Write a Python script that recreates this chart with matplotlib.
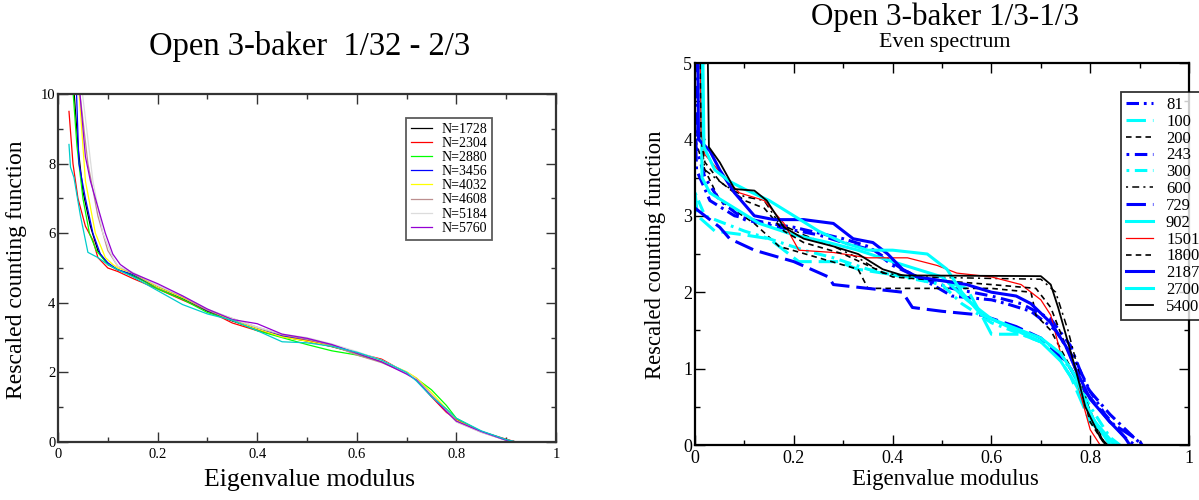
import matplotlib
matplotlib.use("Agg")
import matplotlib.pyplot as plt
from matplotlib.ticker import MultipleLocator

plt.rcParams['font.family'] = ['Liberation Serif', 'DejaVu Serif']
plt.rcParams['lines.scale_dashes'] = False

# ---------------- left panel data ----------------
left_title = "Open 3-baker  1/32 - 2/3"
left_labels = ["N=1728", "N=2304", "N=2880", "N=3456", "N=4032", "N=4608", "N=5184", "N=5760"]
left_colors = ["#000000", "#ff0000", "#00ff00", "#0000ff", "#ffff00", "#bc8f8f", "#dcdcdc", "#9400d3"]

body_x = [0.12, 0.15, 0.2, 0.25, 0.3, 0.35, 0.4, 0.45, 0.5, 0.55, 0.6, 0.65, 0.7, 0.72, 0.75, 0.78, 0.8, 0.85, 0.9, 0.92, 0.95]

n1728_x = [0.03, 0.04, 0.05, 0.065, 0.08, 0.1] + body_x
n1728_y = [10.5, 8.5, 7.2, 6.2, 5.5, 5.1, 4.95, 4.78, 4.45, 4.12, 3.76, 3.48, 3.24, 3.03, 2.9, 2.74, 2.55, 2.32, 1.98, 1.8, 1.35, 0.9, 0.6, 0.3, 0.06, 0.0, 0.0]
n2304_x = [0.022, 0.03, 0.04, 0.055, 0.07, 0.08, 0.1] + body_x
n2304_y = [9.5, 8.0, 7.0, 6.2, 5.8, 5.3, 5.0, 4.9, 4.7, 4.4, 4.08, 3.78, 3.42, 3.2, 3.05, 2.92, 2.76, 2.56, 2.38, 1.98, 1.78, 1.3, 0.85, 0.65, 0.3, 0.08, 0.0, 0.0]
n2880_x = [0.028, 0.038, 0.05, 0.063, 0.077, 0.1] + body_x
n2880_y = [10.5, 8.5, 7.0, 6.0, 5.5, 5.1, 4.95, 4.8, 4.4, 4.1, 3.72, 3.5, 3.2, 3.0, 2.8, 2.62, 2.5, 2.32, 2.0, 1.82, 1.5, 1.05, 0.68, 0.3, 0.06, 0.0, 0.0]
n3456_x = [0.036, 0.042, 0.055, 0.07, 0.085, 0.1] + body_x
n3456_y = [10.5, 8.0, 7.0, 6.0, 5.4, 5.15, 4.95, 4.82, 4.45, 4.15, 3.78, 3.5, 3.25, 3.05, 2.95, 2.8, 2.55, 2.33, 2.0, 1.82, 1.35, 0.92, 0.6, 0.3, 0.06, 0.0, 0.0]
n4032_x = [0.04, 0.055, 0.075, 0.095, 0.11] + body_x
n4032_y = [10.5, 7.5, 6.0, 5.3, 5.1, 5.0, 4.85, 4.45, 4.15, 3.8, 3.5, 3.25, 3.02, 2.9, 2.75, 2.55, 2.33, 2.02, 1.84, 1.42, 0.95, 0.62, 0.3, 0.06, 0.0, 0.0]
n4608_x = [0.04, 0.06, 0.08, 0.1] + body_x
n4608_y = [10.5, 8.0, 6.5, 5.5, 5.05, 4.85, 4.5, 4.18, 3.8, 3.55, 3.3, 3.08, 2.95, 2.78, 2.5, 2.28, 1.98, 1.8, 1.35, 0.88, 0.58, 0.28, 0.05, 0.0, 0.0]
n5184_x = [0.045, 0.07, 0.09, 0.11] + body_x
n5184_y = [10.5, 7.5, 6.0, 5.3, 5.05, 4.88, 4.5, 4.2, 3.82, 3.55, 3.3, 3.1, 3.0, 2.82, 2.6, 2.35, 2.0, 1.8, 1.35, 0.9, 0.58, 0.28, 0.05, 0.0, 0.0]
n5760_x = [0.041, 0.055, 0.065, 0.085, 0.095, 0.11, 0.125] + body_x[1:]
n5760_y = [10.5, 8.2, 7.5, 6.5, 6.0, 5.4, 5.1, 4.85, 4.55, 4.2, 3.82, 3.52, 3.4, 3.1, 2.98, 2.8, 2.55, 2.3, 1.95, 1.78, 1.32, 0.88, 0.6, 0.3, 0.05, 0.0, 0.0]
extra_x = [0.022, 0.025, 0.032, 0.045, 0.06, 0.08, 0.1] + body_x
extra_y = [8.55, 7.9, 7.6, 6.5, 5.45, 5.3, 5.1, 4.95, 4.75, 4.35, 3.95, 3.68, 3.5, 3.2, 2.88, 2.85, 2.75, 2.58, 2.35, 2.0, 1.75, 1.3, 0.95, 0.68, 0.32, 0.07, 0.0, 0.0]

left_x = [n1728_x, n2304_x, n2880_x, n3456_x, n4032_x, n4608_x, n5184_x, n5760_x]
left_y = [n1728_y, n2304_y, n2880_y, n3456_y, n4032_y, n4608_y, n5184_y, n5760_y]

# ---------------- right panel data ----------------
right_title = "Open 3-baker 1/3-1/3"
right_subtitle = "Even spectrum"
right_labels = ["81", "100", "200", "243", "300", "600", "729", "902", "1501", "1800", "2187", "2700", "5400"]

r81_x = [0.0, 0.003, 0.03, 0.08, 0.15, 0.2, 0.3, 0.35, 0.42, 0.48, 0.52, 0.6, 0.63, 0.68, 0.73, 0.77, 0.8, 0.84, 0.88, 0.905]
r81_y = [4.2, 3.6, 3.2, 3.0, 2.9, 2.85, 2.7, 2.6, 2.3, 2.1, 1.95, 1.9, 1.85, 1.75, 1.5, 1.1, 0.7, 0.4, 0.15, 0.0]
r100_x = [0.0, 0.005, 0.04, 0.1, 0.15, 0.21, 0.29, 0.33, 0.43, 0.5, 0.55, 0.58, 0.6, 0.66, 0.72, 0.76, 0.8, 0.85]
r100_y = [3.3, 3.0, 2.8, 2.75, 2.7, 2.4, 2.4, 2.3, 2.2, 2.15, 2.05, 1.7, 1.45, 1.45, 1.3, 0.9, 0.3, 0.0]
r200_x = [0.0, 0.02, 0.05, 0.12, 0.17, 0.25, 0.33, 0.35, 0.6, 0.68, 0.69, 0.72, 0.77, 0.83]
r200_y = [4.0, 3.6, 3.2, 2.9, 2.6, 2.45, 2.3, 2.05, 2.05, 2.0, 1.7, 1.5, 0.9, 0.0]
r243_x = [0.0, 0.002, 0.02, 0.05, 0.1, 0.17, 0.25, 0.3, 0.36, 0.4, 0.45, 0.52, 0.6, 0.66, 0.72, 0.76, 0.79, 0.83, 0.87, 0.89]
r243_y = [5.5, 3.9, 3.5, 3.2, 2.95, 2.85, 2.75, 2.65, 2.55, 2.35, 2.2, 2.05, 1.95, 1.85, 1.65, 1.3, 0.8, 0.4, 0.1, 0.0]
r300_x = [0.0, 0.02, 0.1, 0.15, 0.22, 0.28, 0.35, 0.42, 0.5, 0.54, 0.6, 0.66, 0.72, 0.76, 0.8, 0.84, 0.86]
r300_y = [3.3, 3.0, 2.8, 2.7, 2.55, 2.45, 2.3, 2.2, 2.1, 1.85, 1.6, 1.45, 1.3, 1.0, 0.5, 0.1, 0.0]
r600_x = [0.01, 0.012, 0.02, 0.06, 0.1, 0.14, 0.17, 0.22, 0.28, 0.33, 0.38, 0.45, 0.6, 0.7, 0.73, 0.755, 0.775, 0.8, 0.83]
r600_y = [5.5, 4.0, 3.6, 3.4, 3.25, 3.2, 2.9, 2.75, 2.6, 2.45, 2.25, 2.2, 2.18, 2.17, 2.0, 1.5, 1.0, 0.4, 0.0]
r729_x = [0.0, 0.05, 0.07, 0.12, 0.2, 0.27, 0.28, 0.35, 0.42, 0.44, 0.5, 0.58, 0.65, 0.7, 0.75, 0.79, 0.84, 0.9, 0.905]
r729_y = [3.1, 2.85, 2.7, 2.55, 2.4, 2.2, 2.1, 2.05, 2.0, 1.8, 1.75, 1.7, 1.55, 1.4, 1.1, 0.7, 0.3, 0.05, 0.0]
r902_x = [0.012, 0.014, 0.03, 0.08, 0.13, 0.2, 0.27, 0.33, 0.4, 0.45, 0.5, 0.55, 0.6, 0.65, 0.7, 0.74, 0.77, 0.81, 0.85]
r902_y = [5.5, 3.5, 3.3, 3.1, 2.9, 2.75, 2.65, 2.55, 2.4, 2.3, 2.2, 1.9, 1.65, 1.5, 1.35, 1.1, 0.8, 0.3, 0.0]
r1501_x = [0.01, 0.012, 0.02, 0.06, 0.09, 0.14, 0.18, 0.21, 0.28, 0.35, 0.43, 0.49, 0.53, 0.6, 0.66, 0.7, 0.72, 0.74, 0.77, 0.8, 0.82]
r1501_y = [5.5, 4.1, 3.8, 3.5, 3.3, 3.2, 2.9, 2.55, 2.52, 2.45, 2.45, 2.35, 2.25, 2.2, 2.1, 1.9, 1.7, 1.2, 0.9, 0.2, 0.0]
r1800_x = [0.01, 0.012, 0.02, 0.05, 0.1, 0.14, 0.18, 0.22, 0.3, 0.35, 0.4, 0.5, 0.6, 0.69, 0.72, 0.75, 0.775, 0.8, 0.83]
r1800_y = [5.5, 4.0, 3.7, 3.45, 3.2, 3.1, 2.8, 2.65, 2.5, 2.35, 2.2, 2.15, 2.1, 2.05, 1.8, 1.3, 0.9, 0.3, 0.0]
r2187_x = [0.005, 0.007, 0.03, 0.05, 0.08, 0.12, 0.16, 0.22, 0.28, 0.3, 0.32, 0.36, 0.39, 0.42, 0.45, 0.5, 0.55, 0.6, 0.65, 0.68, 0.72, 0.75, 0.77, 0.8, 0.84, 0.87, 0.88]
r2187_y = [5.5, 4.0, 3.85, 3.6, 3.3, 3.0, 2.95, 2.95, 2.9, 2.8, 2.7, 2.65, 2.5, 2.3, 2.2, 2.15, 2.1, 2.0, 1.95, 1.85, 1.6, 1.3, 1.0, 0.6, 0.3, 0.1, 0.0]
r2700_x = [0.015, 0.018, 0.04, 0.07, 0.1, 0.15, 0.2, 0.25, 0.3, 0.35, 0.4, 0.47, 0.51, 0.54, 0.58, 0.62, 0.66, 0.7, 0.74, 0.77, 0.8, 0.84]
r2700_y = [5.5, 3.9, 3.6, 3.45, 3.35, 3.2, 3.0, 2.8, 2.65, 2.55, 2.55, 2.5, 2.3, 2.0, 1.7, 1.6, 1.5, 1.4, 1.2, 0.9, 0.4, 0.0]
r5400_x = [0.025, 0.028, 0.05, 0.08, 0.12, 0.145, 0.18, 0.22, 0.28, 0.33, 0.38, 0.42, 0.7, 0.72, 0.735, 0.77, 0.79, 0.82, 0.835]
r5400_y = [5.5, 3.9, 3.7, 3.35, 3.33, 3.2, 2.85, 2.7, 2.6, 2.5, 2.3, 2.22, 2.21, 2.1, 1.8, 1.0, 0.5, 0.1, 0.0]

right_x = [r81_x, r100_x, r200_x, r243_x, r300_x, r600_x, r729_x, r902_x, r1501_x, r1800_x, r2187_x, r2700_x, r5400_x]
right_y = [r81_y, r100_y, r200_y, r243_y, r300_y, r600_y, r729_y, r902_y, r1501_y, r1800_y, r2187_y, r2700_y, r5400_y]

BLUE, CYAN, BLACK, RED = "#0000ff", "#00ffff", "#000000", "#ff0000"
right_styles = [
    dict(color=BLUE, lw=2.2, dashes=(9, 3.5, 2, 3.5)),
    dict(color=CYAN, lw=2.2, dashes=(14, 5)),
    dict(color=BLACK, lw=1.2, dashes=(4, 3)),
    dict(color=BLUE, lw=2.2, dashes=(2, 4, 9, 4)),
    dict(color=CYAN, lw=2.2, dashes=(2, 4, 9, 4)),
    dict(color=BLACK, lw=1.1, dashes=(1.5, 3, 5, 3)),
    dict(color=BLUE, lw=2.2, dashes=(14, 5)),
    dict(color=CYAN, lw=2.2, ls='-'),
    dict(color=RED, lw=0.9, ls='-'),
    dict(color=BLACK, lw=1.2, dashes=(4, 3)),
    dict(color=BLUE, lw=2.2, ls='-'),
    dict(color=CYAN, lw=2.2, ls='-'),
    dict(color=BLACK, lw=1.3, ls='-'),
]

fig = plt.figure(figsize=(11.99, 5.0), dpi=100)


def style_axes(ax, xmaj, xmin, ymaj, ymin, spine_color, tick_size):
    ax.xaxis.set_major_locator(MultipleLocator(xmaj))
    ax.xaxis.set_minor_locator(MultipleLocator(xmin))
    ax.yaxis.set_major_locator(MultipleLocator(ymaj))
    ax.yaxis.set_minor_locator(MultipleLocator(ymin))
    ax.tick_params(which='both', direction='in', top=True, right=True,
                   labelsize=tick_size, color=spine_color)
    ax.tick_params(which='major', length=7, width=1.0)
    ax.tick_params(which='minor', length=3.5, width=1.0)
    for s in ax.spines.values():
        s.set_linewidth(1.6)
        s.set_color(spine_color)


# ---- left ----
axL = fig.add_axes([0.0484, 0.116, 0.4153, 0.696])
for xs, ys, c, lab in zip(left_x, left_y, left_colors, left_labels):
    axL.plot(xs, ys, color=c, lw=0.9, label=lab)
axL.plot(extra_x, extra_y, color="#00cccc", lw=0.9, label='_nolegend_')
axL.set_xlim(0, 1)
axL.set_ylim(0, 10)
style_axes(axL, 0.2, 0.1, 2, 1, "#333333", 10.5)
axL.set_xticks([0, 0.2, 0.4, 0.6, 0.8, 1.0])
axL.set_xticklabels(["0", "0.2", "0.4", "0.6", "0.8", "1"])
axL.set_yticks([0, 2, 4, 6, 8, 10])
axL.set_yticklabels(["0", "2", "4", "6", "8", "10"])
axL.tick_params(axis='x', pad=4)
axL.tick_params(axis='y', pad=2)
legL = axL.legend(loc='upper left', bbox_to_anchor=(406 / 1199, 1 - 118 / 500),
                  bbox_transform=fig.transFigure, fontsize=10, frameon=True,
                  fancybox=False, handlelength=1.5, handletextpad=0.7,
                  labelspacing=0.08, borderpad=0.35, borderaxespad=0)
legL.get_frame().set_edgecolor("#333333")
legL.get_frame().set_linewidth(1.3)
fig.text(0.258, 1 - 47 / 500, left_title, ha='center', va='center', fontsize=23.5)
fig.text(0.258, 1 - 480 / 500, "Eigenvalue modulus", ha='center', va='center', fontsize=18.5)
fig.text(17 / 1199, 0.46, "Rescaled counting function", ha='center', va='center',
         rotation=90, fontsize=17)

# ---- right ----
axR = fig.add_axes([0.5797, 0.11, 0.412, 0.764])
for xs, ys, st, lab in zip(right_x, right_y, right_styles, right_labels):
    axR.plot(xs, ys, label=lab, **st)
axR.set_xlim(0, 1)
axR.set_ylim(0, 5)
style_axes(axR, 0.2, 0.1, 1, 0.5, "#000000", 13)
axR.set_xticks([0, 0.2, 0.4, 0.6, 0.8, 1.0])
axR.set_xticklabels(["0", "0.2", "0.4", "0.6", "0.8", "1"])
axR.set_yticks([0, 1, 2, 3, 4, 5])
axR.set_yticklabels(["0", "1", "2", "3", "4", "5"])
axR.tick_params(axis='y', pad=2)
legR = axR.legend(loc='upper left', bbox_to_anchor=(1121 / 1199, 1 - 92 / 500),
                  bbox_transform=fig.transFigure, fontsize=12, frameon=True,
                  fancybox=False, handlelength=1.6, handletextpad=0.8,
                  labelspacing=0.05, borderpad=0.3, borderaxespad=0)
legR.get_frame().set_edgecolor("#000000")
legR.get_frame().set_linewidth(1.3)
fig.text(945 / 1199, 1 - 17 / 500, right_title, ha='center', va='center', fontsize=22.4)
fig.text(945 / 1199, 1 - 42 / 500, right_subtitle, ha='center', va='center', fontsize=15.8)
fig.text(945 / 1199, 1 - 480 / 500, "Eigenvalue modulus", ha='center', va='center', fontsize=16.4)
fig.text(656 / 1199, 0.49, "Rescaled counting function", ha='center', va='center',
         rotation=90, fontsize=16.3)

fig.savefig("out.png", dpi=100)
